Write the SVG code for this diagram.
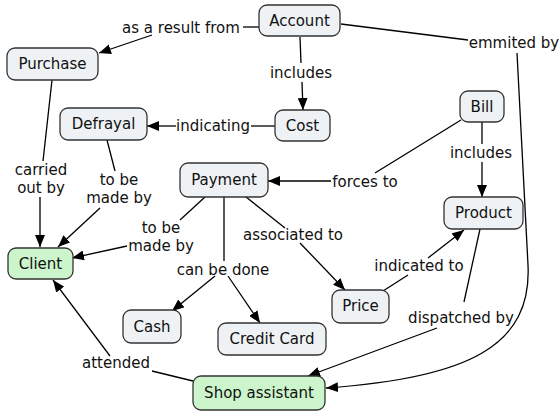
<svg xmlns="http://www.w3.org/2000/svg" width="559" height="412" viewBox="0 0 559 412">
  <defs>
    <marker id="arrow" viewBox="0 0 12 10" refX="12" refY="5" markerWidth="12" markerHeight="10" markerUnits="userSpaceOnUse" orient="auto">
      <path d="M0,0 L12,5 L0,10 Z" fill="#000"/>
    </marker>
    <style>
      .node rect { fill: #eef2f5; stroke: #333; stroke-width: 1.3; }
      .node.green rect { fill: #ccf5cc; }
      text { font-family: "DejaVu Sans", "Noto Sans", sans-serif; font-size: 15px; fill: #111; text-anchor: middle; }
      .edges path { fill: none; stroke: #000; stroke-width: 1.3; }
      .edges .arr { marker-end: url(#arrow); }
      .labels text { font-size: 15px; }
    </style>
  </defs>

  <rect width="559" height="412" fill="#fff"/>

  <!-- connectors -->
  <g class="edges">
    <path d="M259,27 L243,27"/>
    <path class="arr" d="M152,35 L99,53"/>
    <path d="M300,37 L301,63"/>
    <path class="arr" d="M302,82 L303,110"/>
    <path d="M341,24 L468,40"/>
    <path class="arr" d="M517,53 L528,265 C532,345 470,378 326,388"/>
    <path d="M275,126 L251,126"/>
    <path class="arr" d="M176,126 L147,126"/>
    <path d="M52,80 L43,161"/>
    <path class="arr" d="M40,197 L40,247"/>
    <path d="M107,140 L115,171"/>
    <path class="arr" d="M100,208 L58,247"/>
    <path d="M461,120 L375,173"/>
    <path class="arr" d="M331,181 L268,181"/>
    <path d="M482,122 L482,144"/>
    <path class="arr" d="M482,162 L482,197"/>
    <path d="M205,197 L180,220"/>
    <path class="arr" d="M127,246 L72,258"/>
    <path d="M224,197 L224,261"/>
    <path class="arr" d="M215,276 L172,311"/>
    <path class="arr" d="M228,276 L260,323"/>
    <path d="M246,197 L285,228"/>
    <path class="arr" d="M300,243 L345,290"/>
    <path d="M383,291 L408,275"/>
    <path class="arr" d="M428,258 L464,230"/>
    <path d="M480,229 L464,302"/>
    <path class="arr" d="M437,328 L308,376"/>
    <path d="M193,381 L152,371"/>
    <path class="arr" d="M110,356 L53,280"/>
  </g>

  <!-- link labels -->
  <g class="labels">
    <text x="181" y="33">as a result from</text>
    <text x="301" y="78">includes</text>
    <text x="514" y="48">emmited by</text>
    <text x="213" y="131">indicating</text>
    <text x="41" y="175">carried</text>
    <text x="41" y="193">out by</text>
    <text x="119" y="185">to be</text>
    <text x="119" y="203">made by</text>
    <text x="161" y="233">to be</text>
    <text x="161" y="251">made by</text>
    <text x="223" y="275">can be done</text>
    <text x="365" y="187">forces to</text>
    <text x="481" y="158">includes</text>
    <text x="293" y="240">associated to</text>
    <text x="419" y="271">indicated to</text>
    <text x="461" y="323">dispatched by</text>
    <text x="116" y="368">attended</text>
  </g>

  <!-- concepts -->
  <g id="account" class="node"><rect x="259" y="5" width="81" height="31" rx="8"/><text x="299.5" y="26">Account</text></g>
  <g id="purchase" class="node"><rect x="7" y="48" width="91" height="32" rx="8"/><text x="52.5" y="69">Purchase</text></g>
  <g id="defrayal" class="node"><rect x="60" y="108" width="87" height="32" rx="8"/><text x="103.5" y="129">Defrayal</text></g>
  <g id="cost" class="node"><rect x="275" y="110" width="55" height="31" rx="8"/><text x="302.5" y="131">Cost</text></g>
  <g id="bill" class="node"><rect x="460" y="91" width="44" height="31" rx="8"/><text x="482" y="112">Bill</text></g>
  <g id="payment" class="node"><rect x="180" y="163" width="88" height="34" rx="8"/><text x="224" y="185">Payment</text></g>
  <g id="product" class="node"><rect x="444" y="197" width="79" height="32" rx="8"/><text x="483.5" y="218">Product</text></g>
  <g id="client" class="node green"><rect x="8" y="248" width="65" height="31" rx="8"/><text x="40.5" y="269">Client</text></g>
  <g id="price" class="node"><rect x="332" y="290" width="57" height="33" rx="8"/><text x="360.5" y="311">Price</text></g>
  <g id="cash" class="node"><rect x="123" y="310" width="58" height="33" rx="8"/><text x="152" y="332">Cash</text></g>
  <g id="credit-card" class="node"><rect x="218" y="323" width="108" height="32" rx="8"/><text x="272" y="344">Credit Card</text></g>
  <g id="shop-assistant" class="node green"><rect x="193" y="376" width="132" height="34" rx="8"/><text x="259" y="398">Shop assistant</text></g>
</svg>
